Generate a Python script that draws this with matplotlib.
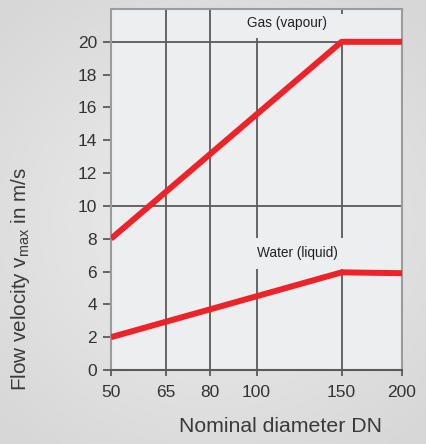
# Max flow velocity vs nominal diameter
import matplotlib.pyplot as plt
import numpy as np

plt.rcParams['font.family'] = ['Liberation Sans', 'DejaVu Sans']

# data
dn = [50, 150, 200]
gas = [8, 20, 20]
water = [2, 5.95, 5.9]
xticks = [50, 65, 80, 100, 150, 200]
yticks = [0, 2, 4, 6, 8, 10, 12, 14, 16, 18, 20]

fig = plt.figure(figsize=(4.26, 4.44), dpi=100)

# soft grey background gradient
bg = fig.add_axes([0, 0, 1, 1], zorder=-10)
yy, xx = np.mgrid[-1:1:200j, -1:1:200j]
r = np.sqrt(xx**2 * 0.8 + yy**2)
bg.imshow(0.93 - 0.09 * np.clip(r, 0, 1.3) / 1.3, cmap='gray', vmin=0, vmax=1,
          extent=[0, 1, 0, 1], aspect='auto')
bg.axis('off')

ax = fig.add_axes([111/426, 1 - 370/444, 291/426, 361/444])
ax.set_facecolor('#eceef0')

ax.plot(dn, gas, color='#ee2229', lw=4.3, solid_capstyle='butt', zorder=4)
ax.plot(dn, water, color='#ee2229', lw=4.3, solid_capstyle='butt', zorder=4)

ax.set_xscale('log')
ax.set_xlim(50, 200)
ax.set_ylim(0, 22)
ax.set_xticks(xticks)
ax.set_xticklabels([str(v) for v in xticks])
ax.minorticks_off()
ax.set_yticks(yticks)

# grid, broken where the labels sit
gc = '#5a5a5a'
ax.vlines([65, 80], 0, 22, color=gc, lw=1.3, zorder=1)
ax.vlines([100, 150], 0, 6.15, color=gc, lw=1.3, zorder=1)
ax.vlines([100], 8.05, 20.25, color=gc, lw=1.3, zorder=1)
ax.vlines([150], 8.05, 20, color=gc, lw=1.3, zorder=1)
ax.vlines([150], 21.7, 22, color=gc, lw=1.3, zorder=1)
for v in [10, 20]:
    ax.axhline(v, color=gc, lw=1.3, zorder=1)

for s in ['left', 'top', 'right']:
    ax.spines[s].set_color('#9a9c9e')
    ax.spines[s].set_linewidth(1.5)
ax.spines['bottom'].set_color(gc)
ax.spines['bottom'].set_linewidth(1.5)

ax.tick_params(axis='both', colors=gc, width=1.3, length=6,
               labelsize=12.5, labelcolor='#333333')
ax.tick_params(axis='x', length=4, pad=7)
ax.tick_params(axis='y', pad=4)

ax.text(115.9, 21.15, 'Gas (vapour)', fontsize=9.8, color='#222222',
        ha='center', va='center', zorder=3)
ax.text(121.6, 7.13, 'Water (liquid)', fontsize=9.8, color='#222222',
        ha='center', va='center', zorder=3)

ax.set_xlabel('Nominal diameter DN', fontsize=15.3, color='#3a3a3a')
ax.xaxis.set_label_coords(0.584, -0.13)
ax.set_ylabel('Flow velocity v$_\\mathregular{max}$ in m/s', fontsize=14.9,
              color='#3a3a3a')
ax.yaxis.set_label_coords(-0.271, 0.253)

fig.savefig('out.png', dpi=100)
